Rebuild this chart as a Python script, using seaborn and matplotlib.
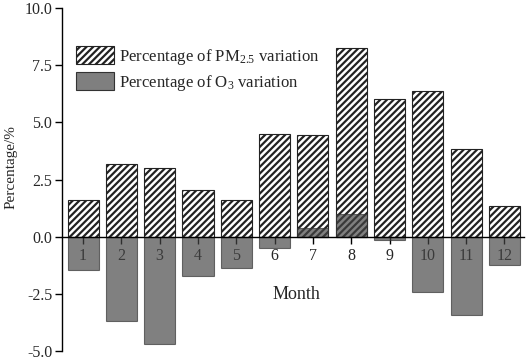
import matplotlib
matplotlib.use("Agg")
import matplotlib.pyplot as plt
import seaborn as sns
import pandas as pd
from matplotlib.patches import Patch

months = ["1", "2", "3", "4", "5", "6", "7", "8", "9", "10", "11", "12"]
pm25 = [1.62, 3.17, 3.00, 2.04, 1.62, 4.48, 4.43, 8.25, 6.03, 6.39, 3.83, 1.32]
o3 = [-1.46, -3.68, -4.68, -1.72, -1.35, -0.49, 0.38, 1.00, -0.13, -2.42, -3.42, -1.25]
yticks = [-5.0, -2.5, 0.0, 2.5, 5.0, 7.5, 10.0]

sns.set_style("white")
plt.rcParams["font.family"] = ["Liberation Serif", "DejaVu Serif"]
plt.rcParams["mathtext.default"] = "regular"
plt.rcParams["hatch.linewidth"] = 1.6
plt.rcParams["hatch.color"] = "black"

df = pd.DataFrame({"Month": months, "PM": pm25, "O3": o3})

fig = plt.figure(figsize=(5.26, 3.61), dpi=100)
bottom_px, top_px = 351, 8
ax = fig.add_axes([62/526, 1-bottom_px/361, 462/526, (bottom_px-top_px)/361])

sns.barplot(data=df, x="Month", y="PM", ax=ax, color="white", width=0.81,
            edgecolor="#222222", linewidth=0.8, saturation=1)
for p in ax.patches:
    p.set_hatch("/////")
sns.barplot(data=df, x="Month", y="O3", ax=ax, color="#444444", width=0.81,
            edgecolor="#333333", linewidth=0.8, saturation=1, alpha=0.68)

ax.set_ylim(-5, 10)
ax.set_xlim(-0.55, 11.51)
ax.set_yticks(yticks)
ax.set_yticklabels([f"{v:.1f}" for v in yticks])

for s in ["top", "right"]:
    ax.spines[s].set_visible(False)
ax.spines["bottom"].set_position(("data", 0))
ax.spines["bottom"].set_color("black")
ax.spines["bottom"].set_linewidth(1.0)
ax.spines["left"].set_color("black")
ax.spines["left"].set_linewidth(1.0)

ax.tick_params(axis="y", direction="out", length=5, width=1, color="black",
               labelsize=11.5, pad=2, left=True)
ax.tick_params(axis="x", direction="out", length=5, width=1, color="black",
               labelsize=11.5, pad=3, bottom=True)
for lbl in ax.get_xticklabels():
    lbl.set_bbox(dict(facecolor="white", edgecolor="none", pad=1.5))

ax.set_ylabel("Percentage/%", fontsize=11)
ax.yaxis.set_label_coords((18-62)/462, (bottom_px-167)/(bottom_px-top_px))
ax.set_xlabel("Month", fontsize=13)
ax.xaxis.set_label_coords((296-62)/462, (bottom_px-286)/(bottom_px-top_px))

handles = [Patch(facecolor="white", edgecolor="#222222", hatch="/////", linewidth=0.8),
           Patch(facecolor="#7f7f7f", edgecolor="#333333", linewidth=0.8)]
ax.legend(handles, [r"Percentage of PM$_{2.5}$ variation", r"Percentage of O$_3$ variation"],
          loc="upper left", bbox_to_anchor=(0.03, (bottom_px-46)/(bottom_px-top_px)), frameon=False,
          fontsize=12.1, handlelength=2.25, handleheight=1.3, labelspacing=0.3,
          handletextpad=0.3, borderaxespad=0, borderpad=0)

fig.savefig("out.png", dpi=100)
